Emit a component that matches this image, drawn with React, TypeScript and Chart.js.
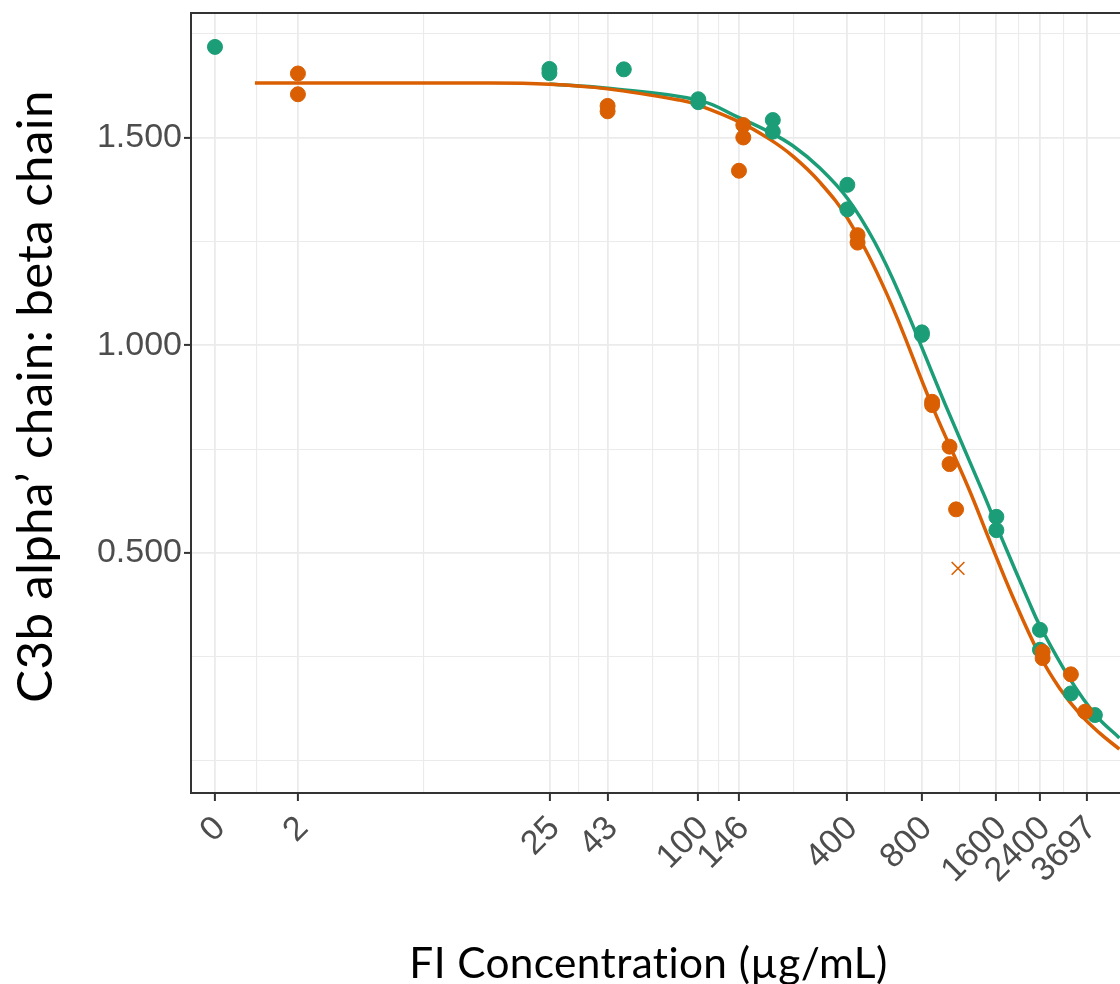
import React, { useEffect, useRef } from 'react';
import { Chart, registerables } from 'chart.js';

Chart.register(...registerables);

// ---------- data ----------
const X_BREAKS = [0, 2, 25, 43, 100, 146, 400, 800, 1600, 2400, 3697];
const X_BREAK_LABELS = ['0', '2', '25', '43', '100', '146', '400', '800', '1600', '2400', '3697'];
const Y_BREAKS = [0.5, 1.0, 1.5];
const Y_BREAK_LABELS = ['0.500', '1.000', '1.500'];

const GREEN_CONC = [0, 25, 25, 50, 100, 100, 200, 200, 400, 400, 800, 800, 1600, 1600, 2400, 2400, 3200, 4000];
const GREEN_RATIO = [1.718, 1.665, 1.655, 1.664, 1.592, 1.585, 1.542, 1.514, 1.386, 1.327, 1.031, 1.025, 0.587, 0.555, 0.315, 0.267, 0.162, 0.110];

const ORANGE_CONC = [2, 2, 43, 43, 146, 152, 152, 440, 440, 880, 880, 1035, 1035, 1100, 2460, 2460, 3200, 3650];
const ORANGE_RATIO = [1.654, 1.604, 1.576, 1.563, 1.420, 1.530, 1.500, 1.265, 1.247, 0.864, 0.856, 0.756, 0.714, 0.605, 0.262, 0.247, 0.208, 0.118];

const ORANGE_EXCLUDED_CONC = [1120];
const ORANGE_EXCLUDED_RATIO = [0.463];

const GREEN_FIT_CONC = [25, 42, 100, 147, 194, 241, 309, 402, 515, 650, 997, 1433, 1694, 2176, 2389, 3156, 4056, 5024];
const GREEN_FIT_RATIO = [1.629, 1.619, 1.590, 1.547, 1.513, 1.480, 1.427, 1.352, 1.249, 1.123, 0.856, 0.637, 0.531, 0.380, 0.327, 0.199, 0.108, 0.055];

const ORANGE_FIT_CONC = [1, 13, 25, 43, 84, 100, 147, 194, 241, 309, 402, 575, 880, 1227, 1500, 1850, 2389, 2876, 3463, 4172, 5024];
const ORANGE_FIT_RATIO = [1.631, 1.631, 1.628, 1.617, 1.590, 1.578, 1.537, 1.496, 1.455, 1.393, 1.304, 1.126, 0.854, 0.660, 0.531, 0.399, 0.255, 0.175, 0.114, 0.067, 0.028];

const X_TITLE = 'FI Concentration (µg/mL)';
const Y_TITLE = 'C3b alpha’ chain: beta chain';

// ---------- axis transform (pseudo-log) ----------
const ZERO_DOSE_AT = 0.22; // where the zero-dose control sits on the pseudo-log axis
const tx = (c: number) => Math.asinh(Math.max(c, ZERO_DOSE_AT) / 2);

const X_LIMITS = [-0.1132, 8.8011]; // in transformed units
const Y_LIMITS = [-0.0776, 1.7996];

// ---------- style ----------
const GREEN = '#1B9E77';
const ORANGE = '#D95F02';
const GRID = '#EBEBEB';
const AXIS_DARK = '#333333';
const TICK_TEXT = '#4D4D4D';
const TICK_FONT = { family: '"Liberation Sans", Arial, sans-serif', size: 34, lineHeight: 1 };
const TITLE_FAMILY = 'Lato, "Open Sans", sans-serif';

type TickItem = { v: number; major: boolean; label: string };

function buildBreaks(majors: number[], labels: string[], lo: number, hi: number): TickItem[] {
  const b = [...majors];
  const bd = b[1] - b[0];
  if (lo < b[0]) b.unshift(b[0] - bd);
  if (hi > b[b.length - 1]) b.push(b[b.length - 1] + bd);
  const minors: number[] = [];
  for (let i = 0; i < b.length - 1; i++) minors.push((b[i] + b[i + 1]) / 2);
  minors.push(b[0], b[b.length - 1]);
  const items: TickItem[] = majors.map((v, i) => ({ v, major: true, label: labels[i] }));
  minors.forEach((v) => {
    if (v >= lo && v <= hi && !majors.some((m) => Math.abs(m - v) < 1e-9)) {
      items.push({ v, major: false, label: '' });
    }
  });
  items.sort((a, b2) => a.v - b2.v);
  return items;
}

const X_TICKS = buildBreaks(X_BREAKS.map(tx), X_BREAK_LABELS, X_LIMITS[0], X_LIMITS[1]);
const Y_TICKS = buildBreaks(Y_BREAKS, Y_BREAK_LABELS, Y_LIMITS[0], Y_LIMITS[1]);

const toPoints = (xs: number[], ys: number[]) => xs.map((c, i) => ({ x: tx(c), y: ys[i] }));

function setTitleFont(ctx: any, text: string, width: number) {
  ctx.letterSpacing = '0.4px'; // non-zero spacing keeps "ti" from ligating
  ctx.font = `100px ${TITLE_FAMILY}`;
  const w = ctx.measureText(text).width;
  const size = (100 * width) / w;
  ctx.font = `${size}px ${TITLE_FAMILY}`;
}

const framePlugin = {
  id: 'frameAndTitles',
  afterDraw(chart: any) {
    const { ctx, chartArea } = chart;
    ctx.save();
    ctx.strokeStyle = AXIS_DARK;
    ctx.lineWidth = 2;
    ctx.beginPath();
    ctx.moveTo(chartArea.left, chartArea.top);
    ctx.lineTo(chartArea.right, chartArea.top);
    ctx.lineTo(chartArea.right, chartArea.bottom);
    ctx.stroke();

    ctx.fillStyle = '#000000';
    ctx.textAlign = 'center';
    ctx.textBaseline = 'alphabetic';
    // x title
    setTitleFont(ctx, X_TITLE, 473);
    ctx.fillText(X_TITLE, 648.5, 978);
    // y title
    setTitleFont(ctx, Y_TITLE, 607);
    ctx.translate(52, 396.5);
    ctx.rotate(-Math.PI / 2);
    ctx.fillText(Y_TITLE, 0, 0);
    ctx.restore();
  },
};

export default function App() {
  const ref = useRef<HTMLCanvasElement>(null);

  useEffect(() => {
    if (!ref.current) return;
    const chart = new Chart(ref.current, {
      type: 'line',
      data: {
        datasets: [
          {
            label: 'excluded',
            data: toPoints(ORANGE_EXCLUDED_CONC, ORANGE_EXCLUDED_RATIO),
            showLine: false,
            pointStyle: 'crossRot',
            pointRadius: 9,
            borderColor: ORANGE,
            backgroundColor: ORANGE,
            pointBorderWidth: 1.6,
            order: 0,
          },
          {
            label: 'orange points',
            data: toPoints(ORANGE_CONC, ORANGE_RATIO),
            showLine: false,
            pointRadius: 7.5,
            pointBorderWidth: 1,
            borderColor: ORANGE,
            backgroundColor: ORANGE,
            order: 1,
          },
          {
            label: 'green points',
            data: toPoints(GREEN_CONC, GREEN_RATIO),
            showLine: false,
            pointRadius: 7.5,
            pointBorderWidth: 1,
            borderColor: GREEN,
            backgroundColor: GREEN,
            order: 2,
          },
          {
            label: 'orange fit',
            data: toPoints(ORANGE_FIT_CONC, ORANGE_FIT_RATIO),
            showLine: true,
            pointRadius: 0,
            borderColor: ORANGE,
            borderWidth: 3.5,
            tension: 0.4,
            order: 3,
          },
          {
            label: 'green fit',
            data: toPoints(GREEN_FIT_CONC, GREEN_FIT_RATIO),
            showLine: true,
            pointRadius: 0,
            borderColor: GREEN,
            borderWidth: 3.5,
            tension: 0.4,
            order: 4,
          },
        ],
      } as any,
      options: {
        animation: false,
        responsive: false,
        devicePixelRatio: 1,
        events: [],
        layout: { padding: { left: 0, top: 13, right: 10, bottom: 0 } },
        plugins: { legend: { display: false }, tooltip: { enabled: false }, title: { display: false } },
        scales: {
          x: {
            type: 'linear',
            min: X_LIMITS[0],
            max: X_LIMITS[1],
            afterBuildTicks: (scale: any) => {
              scale.ticks = X_TICKS.map((t) => ({ value: t.v }));
            },
            afterFit: (scale: any) => {
              scale.height = 191;
              scale.paddingLeft = 0;
              scale.paddingRight = 0;
            },
            ticks: {
              autoSkip: false,
              minRotation: 45,
              maxRotation: 45,
              padding: 10,
              labelOffset: 5,
              color: TICK_TEXT,
              font: TICK_FONT,
              callback: (_v: any, i: number) => X_TICKS[i]?.label ?? '',
            },
            grid: {
              color: GRID,
              lineWidth: (c: any) => (X_TICKS[c.index]?.major ? 1.8 : 1.1),
              drawTicks: true,
              tickLength: 8,
              tickWidth: 2,
              tickColor: (c: any) => (X_TICKS[c.index]?.major ? AXIS_DARK : 'rgba(0,0,0,0)'),
            },
            border: { display: true, color: AXIS_DARK, width: 2 },
          },
          y: {
            type: 'linear',
            min: Y_LIMITS[0],
            max: Y_LIMITS[1],
            afterBuildTicks: (scale: any) => {
              scale.ticks = Y_TICKS.map((t) => ({ value: t.v }));
            },
            afterFit: (scale: any) => {
              scale.width = 191;
              scale.paddingTop = 0;
              scale.paddingBottom = 0;
            },
            ticks: {
              autoSkip: false,
              padding: 2,
              color: TICK_TEXT,
              font: TICK_FONT,
              callback: (_v: any, i: number) => Y_TICKS[i]?.label ?? '',
            },
            grid: {
              color: GRID,
              lineWidth: (c: any) => (Y_TICKS[c.index]?.major ? 1.8 : 1.1),
              drawTicks: true,
              tickLength: 7,
              tickWidth: 2,
              tickColor: (c: any) => (Y_TICKS[c.index]?.major ? AXIS_DARK : 'rgba(0,0,0,0)'),
            },
            border: { display: true, color: AXIS_DARK, width: 2 },
          },
        },
      } as any,
      plugins: [framePlugin],
    });

    const fonts: any = (document as any).fonts;
    if (fonts && fonts.load) {
      Promise.all([fonts.load('34px "Liberation Sans"'), fonts.load('40px Lato')])
        .then(() => chart.update())
        .catch(() => {});
    }
    return () => chart.destroy();
  }, []);

  return (
    <div
      style={{
        position: 'fixed',
        left: 0,
        top: 0,
        width: 1120,
        height: 984,
        overflow: 'hidden',
        background: '#ffffff',
      }}
    >
      <canvas ref={ref} width={1160} height={984} style={{ display: 'block', width: 1160, height: 984 }} />
    </div>
  );
}
